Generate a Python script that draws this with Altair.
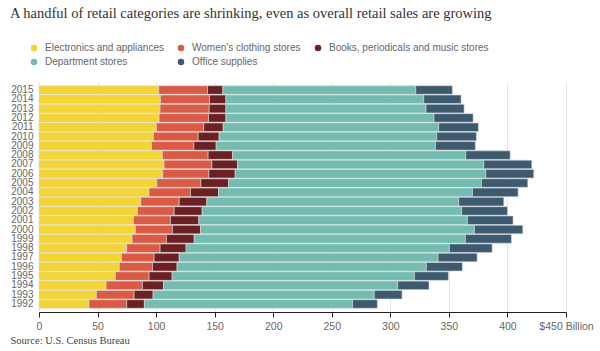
import altair as alt
import pandas as pd

years = list(range(2015, 1991, -1))
categories = ["Electronics and appliances", "Women's clothing stores",
              "Books, periodicals and music stores", "Department stores", "Office supplies"]
colors = ["#F4D531", "#DC5A44", "#6C2023", "#73BDB0", "#3E5A6F"]

electronics = [102.3, 103.7, 103.4, 102.6, 100.3, 97.7, 96.0, 105.4, 106.8, 105.7, 100.6, 94.0,
               86.9, 84.0, 80.6, 82.3, 79.5, 74.9, 70.4, 68.6, 65.2, 57.3, 49.0, 42.7]
womens = [41.6, 41.9, 41.9, 42.1, 40.4, 38.2, 36.2, 39.0, 40.8, 39.3, 37.6, 35.3,
          32.8, 31.4, 31.6, 31.6, 29.3, 28.5, 27.9, 28.3, 28.8, 31.0, 32.2, 32.2]
books = [13.1, 14.0, 14.3, 14.9, 16.6, 17.9, 19.1, 20.8, 21.9, 22.5, 23.6, 24.0,
         23.6, 23.9, 24.3, 24.0, 23.7, 22.2, 21.4, 21.0, 19.7, 18.0, 16.2, 15.1]
department = [164.7, 168.9, 170.9, 177.7, 184.0, 185.8, 187.2, 199.2, 210.3, 214.0, 216.0, 216.8,
              215.1, 221.6, 229.3, 233.9, 231.6, 224.8, 221.1, 212.9, 206.8, 200.0, 188.9, 177.8]
office = [31.3, 31.9, 32.5, 33.4, 33.9, 33.9, 34.1, 37.9, 41.0, 41.0, 39.6, 39.0,
          38.5, 39.1, 39.0, 41.3, 39.3, 36.5, 33.3, 30.7, 29.1, 26.7, 23.7, 21.1]

series = [electronics, womens, books, department, office]
rows = []
for ci, (cat, vals) in enumerate(zip(categories, series)):
    for y, v in zip(years, vals):
        rows.append({"year": str(y), "category": cat, "value": v, "order": ci})
df = pd.DataFrame(rows)

chart = alt.Chart(df).mark_bar(stroke="#d5dadd", strokeWidth=0.6).encode(
    x=alt.X("sum(value):Q", stack="zero",
            scale=alt.Scale(domain=[0, 450], nice=False),
            axis=alt.Axis(values=list(range(0, 451, 50)),
                          labelExpr="datum.value == 450 ? '$450 Billion' : datum.label",
                          labelOverlap=False, labelFlush=False,
                          title="Source: U.S. Census Bureau",
                          titleFont="Liberation Serif", titleFontSize=10.5, titleFontWeight="normal",
                          titleColor="#444", titleAnchor="start", titleAlign="left",
                          titleX=-29, titleY=28, titleBaseline="middle",
                          domainColor="#222", tickColor="#222", tickSize=5,
                          labelColor="#666", labelFontSize=10.5, labelPadding=4,
                          labelFont="Liberation Sans",
                          gridColor="#e6e6e6", grid=True)),
    y=alt.Y("year:N", sort=[str(y) for y in years],
            scale=alt.Scale(paddingInner=0.08, paddingOuter=0.4),
            axis=alt.Axis(title=None, domain=False, ticks=False, labelPadding=6,
                          labelOverlap=False,
                          labelColor="#666", labelFontSize=10, labelFont="Liberation Sans")),
    color=alt.Color("category:N", sort=categories,
                    scale=alt.Scale(domain=categories, range=colors),
                    legend=alt.Legend(title=None, orient="none", legendX=-10, legendY=-39,
                                      direction="horizontal",
                                      columns=3, gridAlign="none", columnPadding=12,
                                      rowPadding=4, symbolType="circle", symbolSize=42,
                                      symbolStrokeWidth=0, labelFontSize=10, labelLimit=400,
                                      labelColor="#666", labelFont="Liberation Sans",
                                      labelOffset=6)),
    order=alt.Order("order:Q", sort="ascending"),
).properties(
    width=527, height=230,
    title=alt.TitleParams(
        "A handful of retail categories are shrinking, even as overall retail sales are growing",
        font="Liberation Serif", fontSize=14.5, fontWeight="normal", color="#333",
        anchor="start", frame="group", dx=-29, offset=22),
    autosize=alt.AutoSizeParams(type="none"),
    padding={"left": 39, "top": 82, "right": 34, "bottom": 39},
).configure_view(stroke=None).configure_legend(gridAlign="none")

chart.save("out.html", embed_options={"renderer": "svg", "actions": False})
